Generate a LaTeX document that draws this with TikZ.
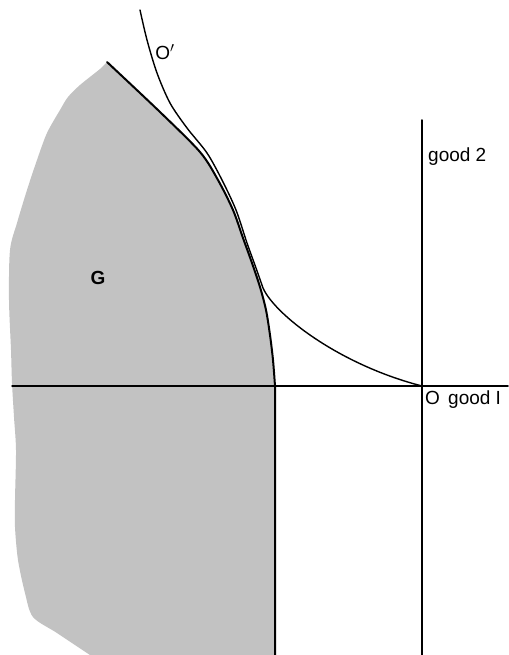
\documentclass[tikz,border=0pt]{standalone}
\usepackage{fontspec}
\setmainfont{Liberation Sans}

\begin{document}
\begin{tikzpicture}[
    x=1pt,
    y=-1pt,
    line cap=round,
    line join=round,
    region/.style={
        fill=black!24
    },
    frontier/.style={
        line width=2pt
    },
    axis/.style={
        line width=1.5pt
    },
    indiff/.style={
        line width=1.4pt
    },
    lbl/.style={
        font=\fontsize{19}{21}\selectfont,
        inner sep=0pt
    }
]
\useasboundingbox (0,0) rectangle (508,655);

% =================================================
% Axes
% =================================================

\coordinate (O) at (422,386);
\coordinate (Xl) at (12,386);
\coordinate (Xr) at (508,386);
\coordinate (Yt) at (422,120);
\coordinate (Yb) at (422,655);

% =================================================
% Region G
% =================================================

% Shaded body (right frontier, bottom, wavy left edge)
\fill[region]
    plot[smooth] coordinates {
        (107,62) (160,112) (200,152) (218,180) (233,210) (243,238)
        (252,263) (260,287) (266,310) (270,335) (273,360) (275,386)}
    -- (275,655) -- (90,655)
    -- plot[smooth] coordinates {
        (90,655) (57,633) (33,617) (25,593) (18,560) (15,527) (15,500)
        (16,450) (14,417) (12,383) (11,350) (9,300) (10,250) (17,223)
        (27,190) (37,160) (47,133) (60,110) (68,97) (80,85) (100,69)
        (107,62)}
    -- cycle;

% Frontier of G
\draw[frontier]
    plot[smooth] coordinates {
        (107,62) (160,112) (200,152) (218,180) (233,210) (243,238)
        (252,263) (260,287) (266,310) (270,335) (273,360) (275,386)}
    -- (275,655);

% =================================================
% Axes lines
% =================================================

\draw[axis] (Xl)--(Xr);
\draw[axis] (Yt)--(Yb);

% =================================================
% Indifference curve O'
% =================================================

\draw[indiff]
    plot[smooth] coordinates {
        (140,10) (147,40) (157,73) (170,103) (187,128) (207,153)
        (222,180) (236,210) (247,243) (256,268) (263,288)}
    .. controls (275,315) and (340,365) .. (O);

% =================================================
% Labels
% =================================================

\node[lbl, anchor=base west] (g2) at (428,162) {good 2};
\node[lbl, anchor=base west] (o) at (425,404) {O};
\node[lbl, anchor=base west] (g1) at (448,404) {good I};
\node[lbl, font=\fontsize{19}{21}\selectfont\bfseries] (gl) at (98,278) {G};
\node[lbl, font=\fontsize{19}{21}\selectfont] (ol) at (165,52) {O$'$};

\end{tikzpicture}
\end{document}
